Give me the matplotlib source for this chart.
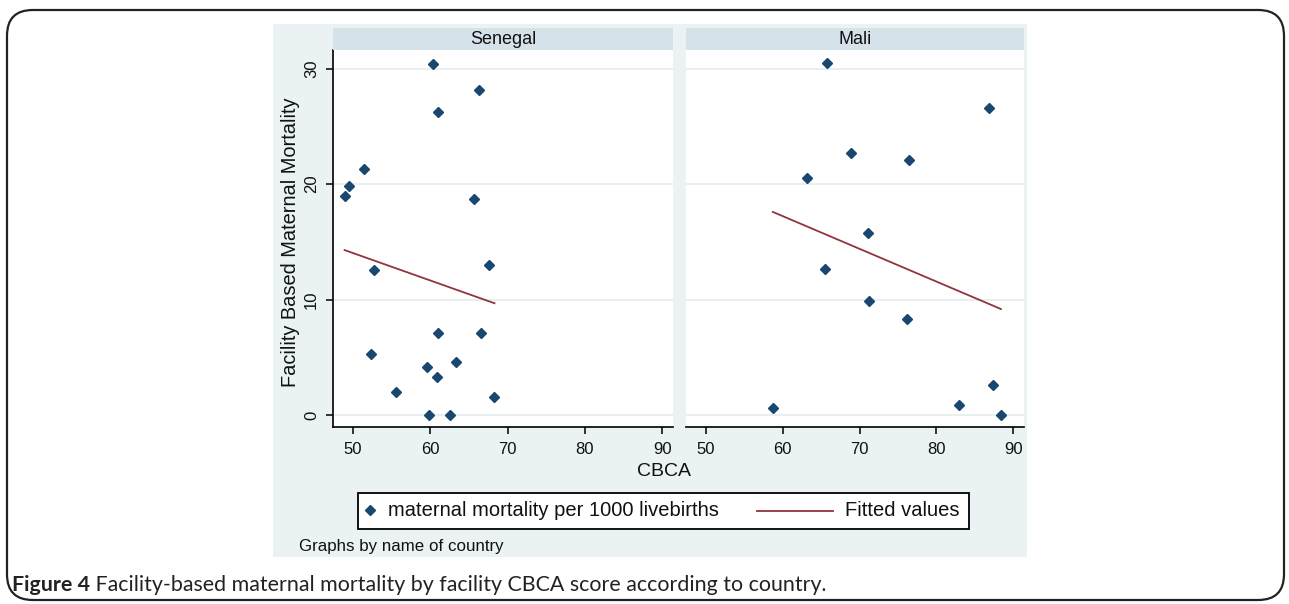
import matplotlib
matplotlib.use("Agg")
import matplotlib.pyplot as plt
from matplotlib.patches import Rectangle, FancyBboxPatch
from matplotlib.lines import Line2D

# ---------------- data ----------------
countries = ["Senegal", "Mali"]

senegal_cbca = [60.3, 66.3, 61.0, 51.4, 49.5, 48.9, 65.7, 67.6, 52.7, 61.0,
                66.5, 52.3, 63.3, 59.5, 60.8, 55.6, 68.2, 59.8, 62.5]
senegal_mm = [30.4, 28.1, 26.2, 21.3, 19.8, 19.0, 18.7, 13.0, 12.6, 7.1,
              7.1, 5.3, 4.6, 4.2, 3.3, 2.0, 1.6, 0.0, 0.0]
senegal_fit_x = [48.9, 68.3]
senegal_fit_y = [14.3, 9.7]

mali_cbca = [65.7, 86.9, 68.9, 76.4, 63.2, 71.1, 65.5, 71.2, 76.2, 87.3,
             83.0, 58.7, 88.4]
mali_mm = [30.5, 26.6, 22.7, 22.1, 20.5, 15.8, 12.7, 9.9, 8.3, 2.6,
           0.9, 0.6, 0.0]
mali_fit_x = [58.7, 88.4]
mali_fit_y = [17.6, 9.2]

x_ticks = [50, 60, 70, 80, 90]
y_ticks = [0, 10, 20, 30]

x_title = "CBCA"
y_title = "Facility Based Maternal Mortality"
legend_labels = ["maternal mortality per 1000 livebirths", "Fitted values"]
note = "Graphs by name of country"
caption_bold = "Figure 4"
caption_rest = " Facility-based maternal mortality by facility CBCA score according to country."

# ---------------- style ----------------
W, H = 1289, 604
DPI = 100
NAVY = "#1a476f"
MAROON = "#90353b"
BG = "#eaf2f3"
STRIP = "#d6e2e9"
GRID = "#e3ecef"
FONT = "Liberation Sans"
TXT = "#111111"

fig = plt.figure(figsize=(W / DPI, H / DPI), dpi=DPI)
fig.patch.set_facecolor("white")


def box(x0, y0, x1, y1):
    """pixel box (top-left origin) -> figure fraction rect"""
    return [x0 / W, 1 - y1 / H, (x1 - x0) / W, (y1 - y0) / H]


# outer rounded frame
frame = FancyBboxPatch((7 / W, 4 / H), (1284 - 7) / W, (597 - 7) / H,
                       boxstyle="round,pad=0,rounding_size=0.02",
                       transform=fig.transFigure, facecolor="white",
                       edgecolor="#222222", linewidth=1.6, zorder=-2,
                       mutation_aspect=W / H)
fig.patches.append(frame)

# Stata graph region background
fig.patches.append(Rectangle((273 / W, 1 - 557 / H), (1027 - 273) / W, (557 - 24) / H,
                             transform=fig.transFigure, facecolor=BG,
                             edgecolor="none", zorder=-1))

panels = [
    (countries[0], senegal_cbca, senegal_mm, senegal_fit_x, senegal_fit_y, 333, 673),
    (countries[1], mali_cbca, mali_mm, mali_fit_x, mali_fit_y, 686, 1024),
]

ax_top, ax_bot = 50, 427
for i, (name, xs, ys, fx, fy, px0, px1) in enumerate(panels):
    ax = fig.add_axes(box(px0, ax_top, px1, ax_bot))
    ax.set_facecolor("white")
    ax.set_xlim(47.4, 91.4)
    ax.set_ylim(-1.0, 31.6)
    for yt in y_ticks:
        ax.axhline(yt, color=GRID, lw=1.2, zorder=1)
    ax.plot(fx, fy, color=MAROON, lw=1.3, zorder=2)
    ax.plot(xs, ys, linestyle="none", marker="D", markersize=4.6,
            color=NAVY, markeredgecolor=NAVY, zorder=3)
    for s in ["top", "right"]:
        ax.spines[s].set_visible(False)
    ax.spines["bottom"].set_color("black")
    ax.spines["bottom"].set_linewidth(1.2)
    ax.set_xticks(x_ticks)
    ax.set_xticklabels([str(t) for t in x_ticks], fontsize=12, family=FONT,
                       color=TXT)
    ax.tick_params(axis="x", length=5, width=1.1, pad=6, color="black")
    if i == 0:
        ax.spines["left"].set_color("black")
        ax.spines["left"].set_linewidth(1.2)
        ax.set_yticks(y_ticks)
        ax.set_yticklabels([str(t) for t in y_ticks], fontsize=12,
                           family=FONT, rotation=90, va="center", color=TXT)
        ax.tick_params(axis="y", length=5, width=1.1, pad=5, color="black")
    else:
        ax.spines["left"].set_visible(False)
        ax.set_yticks([])
    # strip
    sax = fig.add_axes(box(px0, 28, px1, 50))
    sax.set_facecolor(STRIP)
    sax.set_xticks([])
    sax.set_yticks([])
    for s in sax.spines.values():
        s.set_visible(False)
    sax.text(0.5, 0.5, name, ha="center", va="center", fontsize=13,
             family=FONT, color=TXT, transform=sax.transAxes)

# axis titles
fig.text(291 / W, 1 - 242 / H, y_title, rotation=90, ha="center", va="center",
         fontsize=14.4, family=FONT, color=TXT)
fig.text(664 / W, 1 - 471 / H, x_title, ha="center", va="center",
         fontsize=14, family=FONT, color=TXT)

# legend (Stata-style box)
lx0, ly0, lx1, ly1 = 358, 493, 969, 529
lax = fig.add_axes(box(lx0, ly0, lx1, ly1))
lax.set_xlim(0, lx1 - lx0)
lax.set_ylim(0, ly1 - ly0)
lax.axis("off")
lax.add_patch(Rectangle((0, 0), lx1 - lx0, ly1 - ly0, facecolor="white",
                        edgecolor="black", linewidth=1.3, clip_on=False))
mid = (ly1 - ly0) / 2
lax.add_line(Line2D([12], [mid + 1], linestyle="none", marker="D",
                    markersize=4.6, color=NAVY))
lax.text(30, mid, legend_labels[0], ha="left", va="center", fontsize=14.5,
         family=FONT, color=TXT)
lax.add_line(Line2D([399, 475], [mid, mid], color=MAROON, lw=1.3))
lax.text(487, mid, legend_labels[1], ha="left", va="center", fontsize=14.5,
         family=FONT, color=TXT)

# note
fig.text(299 / W, 1 - 546 / H, note, ha="left", va="center", fontsize=12.2,
         family=FONT, color=TXT)

# caption
cap_y = 1 - 585 / H
t1 = fig.text(12 / W, cap_y, caption_bold, ha="left", va="center",
              fontsize=15.4, family="Lato", fontweight="bold", color="#222222")
fig.canvas.draw()
bb = t1.get_window_extent(renderer=fig.canvas.get_renderer())
fig.text(bb.x1 / W, cap_y, caption_rest, ha="left", va="center",
         fontsize=15.4, family="Lato", color="#222222")

fig.savefig("out.png", dpi=DPI)
